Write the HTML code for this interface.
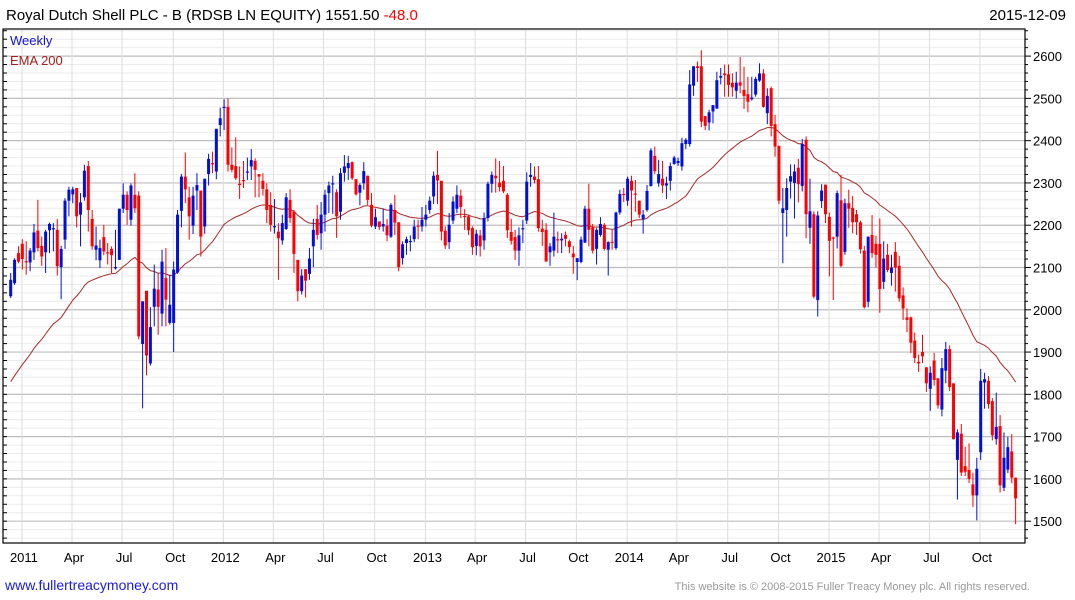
<!DOCTYPE html>
<html><head><meta charset="utf-8"><style>
html,body{margin:0;padding:0;background:#fff;}
svg{display:block;font-family:"Liberation Sans",Arial,sans-serif;}
</style></head><body>
<svg id="chart" width="1075" height="600" viewBox="0 0 1075 600">
<text x="6" y="20" font-size="15" fill="#000">Royal Dutch Shell PLC - B (RDSB LN EQUITY) 1551.50 <tspan fill="#ff0000">-48.0</tspan></text>
<text x="1066" y="20" font-size="15" fill="#000" text-anchor="end">2015-12-09</text>
<g id="grid"></g>
<g id="ema"></g>
<g id="candles"></g>
<rect x="3" y="29" width="1022" height="514" fill="none" stroke="#000" stroke-width="1.2"/>
<g id="axes"></g>
<text x="10" y="45" font-size="13" fill="#1010e0">Weekly</text>
<text x="10" y="65" font-size="13" fill="#a02020">EMA 200</text>
<text x="5" y="590" font-size="14" fill="#1a1adc">www.fullertreacymoney.com</text>
<text x="1030" y="590" font-size="11" fill="#999" text-anchor="end">This website is © 2008-2015 Fuller Treacy Money plc. All rights reserved.</text>
</svg>
<script>
const opens=[2032,2063,2134,2156,2115,2112,2136,2187,2151,2136,2188,2190,2189,2101,2166,2258,2273,2288,2225,2266,2340,2215,2142,2117,2172,2136,2144,2098,2118,2239,2272,2213,2272,2270,1919,2045,1873,2007,2048,1991,2075,1969,1969,2088,2234,2315,2266,2199,2282,2282,2197,2321,2347,2327,2437,2478,2480,2343,2340,2298,2307,2325,2339,2352,2321,2305,2285,2248,2195,2185,2164,2191,2260,2232,2118,2044,2096,2085,2150,2215,2181,2225,2276,2297,2278,2232,2324,2335,2349,2309,2277,2299,2317,2248,2197,2209,2197,2199,2173,2236,2207,2122,2158,2161,2167,2199,2197,2213,2236,2268,2319,2305,2187,2160,2211,2239,2270,2222,2221,2193,2151,2176,2164,2217,2298,2317,2301,2305,2272,2184,2172,2140,2191,2211,2314,2315,2309,2192,2189,2136,2140,2167,2164,2177,2162,2133,2113,2113,2159,2239,2195,2144,2177,2201,2142,2161,2146,2230,2274,2258,2305,2275,2258,2215,2236,2293,2364,2299,2310,2294,2305,2345,2347,2339,2392,2392,2530,2576,2576,2458,2443,2469,2476,2549,2559,2557,2537,2518,2538,2520,2510,2498,2509,2542,2559,2465,2524,2439,2388,2229,2236,2303,2300,2336,2293,2402,2194,2226,2023,2257,2296,2220,2171,2173,2259,2137,2252,2241,2226,2207,2140,2019,2177,2156,2156,2066,2130,2087,2137,2104,2034,1982,1982,1927,1877,1900,1864,1813,1880,1838,1764,1856,1907,1826,1645,1707,1630,1621,1587,1561,1663,1828,1832,1784,1694,1725,1579,1622,1665,1603];
const highs=[2087,2122,2150,2167,2162,2146,2203,2260,2173,2189,2206,2205,2215,2151,2264,2291,2291,2288,2276,2343,2352,2236,2197,2166,2201,2158,2150,2189,2239,2299,2280,2299,2323,2280,2020,2045,2006,2107,2087,2142,2146,2083,2114,2236,2321,2372,2291,2291,2323,2282,2310,2369,2374,2428,2478,2498,2500,2384,2408,2339,2352,2360,2380,2358,2321,2323,2299,2278,2262,2205,2225,2276,2285,2236,2118,2096,2096,2146,2215,2248,2255,2284,2303,2317,2285,2335,2366,2364,2351,2309,2299,2349,2317,2276,2239,2209,2239,2215,2252,2272,2207,2162,2173,2176,2213,2213,2243,2248,2268,2327,2376,2305,2197,2229,2268,2294,2284,2238,2225,2197,2189,2189,2230,2303,2327,2358,2352,2340,2276,2215,2189,2195,2213,2325,2347,2339,2340,2213,2205,2158,2230,2185,2181,2185,2166,2151,2122,2173,2246,2298,2203,2193,2219,2205,2162,2189,2232,2284,2288,2315,2317,2307,2258,2236,2295,2382,2386,2354,2352,2315,2348,2364,2360,2407,2406,2567,2576,2587,2614,2458,2473,2484,2563,2572,2580,2580,2559,2563,2598,2575,2551,2551,2551,2583,2569,2524,2528,2461,2388,2288,2311,2344,2344,2357,2404,2410,2310,2233,2233,2297,2296,2230,2173,2282,2319,2263,2284,2269,2236,2211,2151,2173,2224,2175,2216,2162,2156,2130,2160,2128,2053,2003,1984,1946,1894,1941,1864,1866,1898,1838,1886,1924,1916,1826,1717,1730,1676,1684,1615,1650,1860,1851,1843,1791,1804,1751,1710,1700,1706,1603];
const lows=[2028,2059,2110,2095,2083,2091,2118,2138,2104,2087,2134,2138,2081,2025,2144,2221,2252,2195,2150,2258,2185,2142,2117,2099,2129,2107,2087,2095,2118,2229,2201,2199,2229,1930,1767,1845,1868,1961,1941,1961,1961,1965,1900,2085,2195,2252,2166,2179,2236,2126,2180,2294,2323,2309,2410,2425,2327,2325,2307,2262,2288,2307,2307,2266,2266,2270,2205,2185,2180,2071,2154,2189,2205,2087,2020,2036,2029,2071,2101,2166,2142,2185,2229,2227,2170,2213,2303,2307,2307,2270,2247,2284,2248,2195,2191,2189,2185,2162,2170,2177,2091,2107,2130,2138,2160,2167,2185,2197,2227,2250,2250,2164,2144,2144,2203,2229,2217,2189,2177,2130,2129,2126,2142,2209,2277,2277,2280,2276,2170,2154,2118,2104,2158,2203,2291,2299,2185,2151,2114,2104,2126,2134,2134,2150,2134,2085,2070,2110,2158,2150,2133,2107,2173,2140,2081,2142,2142,2225,2255,2246,2197,2232,2217,2180,2232,2291,2321,2291,2276,2262,2282,2343,2340,2329,2380,2386,2506,2539,2432,2425,2424,2441,2475,2533,2504,2504,2504,2500,2512,2475,2467,2495,2504,2539,2478,2439,2410,2362,2250,2110,2173,2263,2216,2254,2280,2169,2156,2027,1984,2241,2205,2079,2023,2145,2100,2130,2194,2181,2177,2133,2003,2006,2123,2100,1993,2049,2089,2057,2043,2019,1976,1947,1898,1874,1853,1874,1806,1761,1821,1766,1748,1826,1808,1693,1551,1607,1607,1590,1534,1502,1645,1766,1766,1691,1681,1568,1571,1614,1590,1493];
const closes=[2071,2118,2114,2120,2113,2140,2183,2146,2126,2185,2203,2193,2103,2144,2258,2284,2285,2221,2254,2329,2236,2150,2152,2146,2138,2134,2129,2101,2239,2272,2236,2294,2240,1937,2020,1892,1959,2050,2007,2114,2024,2012,2095,2225,2315,2285,2221,2270,2295,2173,2310,2357,2344,2428,2453,2480,2343,2331,2311,2295,2305,2327,2354,2331,2315,2286,2236,2201,2198,2169,2205,2266,2217,2132,2044,2081,2069,2121,2189,2177,2225,2272,2294,2299,2221,2323,2339,2347,2311,2273,2295,2328,2260,2199,2219,2196,2203,2176,2248,2206,2101,2155,2167,2163,2197,2197,2213,2225,2258,2317,2306,2185,2152,2201,2256,2272,2243,2219,2188,2148,2180,2150,2217,2298,2319,2311,2290,2280,2188,2163,2140,2176,2193,2303,2319,2307,2193,2184,2114,2150,2173,2164,2168,2168,2148,2124,2122,2166,2239,2189,2140,2189,2203,2144,2160,2159,2230,2274,2273,2310,2282,2273,2225,2225,2281,2377,2328,2321,2294,2299,2340,2360,2352,2394,2402,2533,2576,2572,2445,2435,2467,2484,2543,2553,2555,2532,2526,2537,2530,2506,2492,2502,2546,2559,2480,2506,2435,2386,2258,2240,2288,2316,2327,2297,2392,2226,2233,2031,2223,2282,2226,2163,2169,2276,2104,2252,2239,2207,2207,2143,2006,2173,2134,2130,2049,2121,2094,2100,2100,2027,2003,1976,1922,1886,1873,1890,1826,1851,1834,1774,1862,1907,1817,1694,1710,1615,1617,1600,1561,1624,1832,1836,1777,1703,1723,1585,1650,1675,1603,1554];
const emaPeriod=[40];
const emaSeed=[1830];
const yTicks=[1500,1600,1700,1800,1900,2000,2100,2200,2300,2400,2500,2600];
const xTickLabels=["2011","Apr","Jul","Oct","2012","Apr","Jul","Oct","2013","Apr","Jul","Oct","2014","Apr","Jul","Oct","2015","Apr","Jul","Oct"];
const xTickWeeks=[2.9,15.8,28.7,41.9,54.8,67.7,80.6,93.8,106.9,119.7,132.7,145.8,158.9,171.7,184.8,197.9,210.9,223.8,236.8,249.8];

const NS="http://www.w3.org/2000/svg";
const X0=10.7, DX=3.88;
function xScale(i){return X0+i*DX;}
function yScale(v){return 56.1+(2600-v)*0.4228;}
function mk(tag,attrs,parent){const e=document.createElementNS(NS,tag);for(const k in attrs)e.setAttribute(k,attrs[k]);parent.appendChild(e);return e;}

const grid=document.getElementById('grid');
const axes=document.getElementById('axes');
// minor horizontal gridlines every 20
for(let v=1460;v<=2660;v+=20){
  const y=yScale(v); if(y<30||y>542) continue;
  const major=(v%100===0);
  const l=mk('line',{x1:3,x2:1025,y1:y,y2:y,stroke:major?'#bdbdbd':'#ececec','stroke-width':major?1.2:1},grid);
  
  
  const t1=mk('line',{x1:1025,x2:major?1031:1028,y1:y,y2:y,stroke:'#000','stroke-width':1},axes);
  
  
  const t2=mk('line',{x1:3,x2:7,y1:y,y2:y,stroke:'#000','stroke-width':1},axes);
  
  
}
yTicks.forEach(v=>{
  const t=mk('text',{x:1033,y:yScale(v)+5,'font-size':13,fill:'#000'},axes);
  t.textContent=v;
  
  
});
xTickWeeks.forEach((w,k)=>{
  const x=xScale(w);
  const l=mk('line',{x1:x,x2:x,y1:30,y2:543,stroke:'#dcdcdc','stroke-width':1},grid);
  
  
  const t=mk('text',{x:x+2,y:562,'font-size':13,fill:'#000','text-anchor':'middle'},axes);
  t.textContent=xTickLabels[k];
  
  
});

// EMA
const alpha=2/(emaPeriod[0]+1);
let e=emaSeed[0]; let pts=[];
closes.forEach((c,i)=>{ if(i>0) e=e+alpha*(c-e); pts.push(xScale(i).toFixed(1)+','+yScale(e).toFixed(1)); });
const pl=mk('polyline',{points:pts.join(' '),fill:'none',stroke:'#a52a2a','stroke-width':1},document.getElementById('ema'));



// candles
const cg=document.getElementById('candles');
closes.forEach((c,i)=>{
  const o=opens[i]; const h=Math.max(highs[i],o,c); const l=Math.min(lows[i],o,c);
  const up=c>=o; const col=up?'#0010d8':'#ff0000';
  const x=xScale(i);
  const g=mk('g',{},cg);
  
  
  mk('line',{x1:x,x2:x,y1:yScale(h),y2:yScale(l),stroke:col,'stroke-width':1},g);
  const yt=yScale(Math.max(o,c)), yb=yScale(Math.min(o,c));
  mk('rect',{x:x-1.5,y:yt,width:3,height:Math.max(1.2,yb-yt),fill:col},g);
});
</script>
</body></html>
